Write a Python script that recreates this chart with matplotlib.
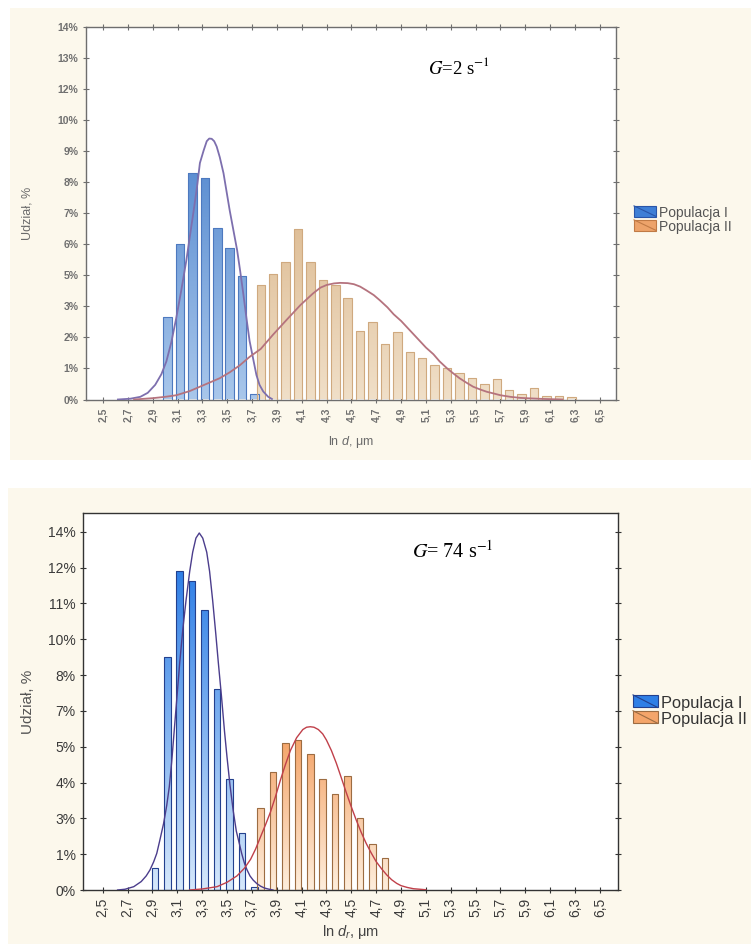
import numpy as np
import matplotlib
matplotlib.use("Agg")
import matplotlib.pyplot as plt
from matplotlib.patches import Rectangle, Patch
from matplotlib.lines import Line2D
from matplotlib.colors import LinearSegmentedColormap
from matplotlib.legend_handler import HandlerBase

plt.rcParams["font.family"] = ["Liberation Sans", "DejaVu Sans"]
plt.rcParams["mathtext.fontset"] = "custom"
plt.rcParams["mathtext.rm"] = "Liberation Sans"
plt.rcParams["mathtext.it"] = "Liberation Sans:italic"

# --- osie wspólne -----------------------------------------------------------
x_tick_labels = ["2,5", "2,7", "2,9", "3,1", "3,3", "3,5", "3,7", "3,9", "4,1",
                 "4,3", "4,5", "4,7", "4,9", "5,1", "5,3", "5,5", "5,7", "5,9",
                 "6,1", "6,3", "6,5"]
legend_labels = ["Populacja I", "Populacja II"]

# --- G = 2 s-1 (górny wykres) -----------------------------------------------
top_y_tick_labels = ["0%", "1%", "2%", "3%", "5%", "6%", "7%", "8%", "9%",
                     "10%", "12%", "13%", "14%"]
top_pop1_x = [3.02, 3.12, 3.22, 3.32, 3.42, 3.52, 3.62, 3.72]
top_pop1_y = [3.1, 5.85, 8.5, 8.3, 6.45, 5.7, 4.65, 0.2]
top_pop2_x = [3.77, 3.87, 3.97, 4.07, 4.17, 4.27, 4.37, 4.47, 4.57, 4.67,
              4.77, 4.87, 4.97, 5.07, 5.17, 5.27, 5.37, 5.47, 5.57, 5.67,
              5.77, 5.87, 5.97, 6.07, 6.17, 6.27]
top_pop2_y = [4.3, 4.7, 5.15, 6.4, 5.15, 4.5, 4.3, 3.8, 2.57, 2.9,
              2.1, 2.55, 1.78, 1.55, 1.3, 1.2, 1.0, 0.8, 0.6, 0.78,
              0.35, 0.2, 0.45, 0.12, 0.12, 0.1]
top_fit1_x = [2.62, 2.72, 2.8, 2.86, 2.92, 2.97, 3.01, 3.05, 3.09, 3.13, 3.17,
              3.2, 3.23, 3.26, 3.28, 3.31, 3.335, 3.355, 3.375, 3.395, 3.415,
              3.44, 3.47, 3.495, 3.52, 3.55, 3.58, 3.605, 3.63, 3.655, 3.68,
              3.71, 3.735, 3.76, 3.79, 3.83, 3.86]
top_fit1_y = [0.0, 0.03, 0.1, 0.25, 0.55, 0.95, 1.43, 2.15, 3.07, 4.1, 5.2,
              6.15, 7.1, 8.1, 8.88, 9.35, 9.7, 9.8, 9.79, 9.7, 9.5,
              9.1, 8.5, 7.8, 7.1, 6.35, 5.6, 4.8, 3.95, 3.05, 2.2,
              1.5, 0.92, 0.55, 0.3, 0.1, 0.02]
top_fit2_x = [2.75, 2.9, 3.0, 3.09, 3.2, 3.28, 3.36, 3.44, 3.52, 3.6, 3.68,
              3.77, 3.87, 3.98, 4.09, 4.19, 4.25, 4.3, 4.36, 4.41, 4.47, 4.52,
              4.57, 4.62, 4.68, 4.73, 4.79, 4.84, 4.9, 4.95, 5.0, 5.05, 5.1,
              5.16, 5.21, 5.27, 5.32, 5.37, 5.43, 5.48, 5.54, 5.59, 5.65, 5.7,
              5.78, 5.86, 5.95, 6.05, 6.2]
top_fit2_y = [0.0, 0.05, 0.1, 0.16, 0.32, 0.48, 0.64, 0.8, 1.02, 1.28, 1.6,
              1.9, 2.44, 3.0, 3.55, 3.98, 4.2, 4.3, 4.36, 4.38, 4.37, 4.33,
              4.24, 4.1, 3.92, 3.72, 3.46, 3.2, 2.95, 2.7, 2.45, 2.2, 1.95,
              1.7, 1.43, 1.17, 0.98, 0.8, 0.62, 0.48, 0.37, 0.29, 0.22, 0.16,
              0.1, 0.06, 0.04, 0.02, 0.0]

# --- G = 74 s-1 (dolny wykres) ----------------------------------------------
bot_y_tick_labels = ["0%", "1%", "3%", "4%", "5%", "7%", "8%", "10%", "11%",
                     "12%", "14%"]
bot_pop1_x = [2.92, 3.02, 3.12, 3.22, 3.32, 3.42, 3.52, 3.62, 3.72]
bot_pop1_y = [0.85, 9.1, 12.47, 12.07, 10.95, 7.84, 4.32, 2.24, 0.1]
bot_pop2_x = [3.77, 3.87, 3.97, 4.07, 4.17, 4.27, 4.37, 4.47, 4.57, 4.67, 4.77]
bot_pop2_y = [3.19, 4.62, 5.73, 5.86, 5.31, 4.32, 3.75, 4.45, 2.8, 1.78, 1.24]
bot_fit1_x = [2.62, 2.68, 2.75, 2.81, 2.85, 2.88, 2.91, 2.935, 2.96, 2.99,
              3.015, 3.036, 3.055, 3.075, 3.1, 3.12, 3.145, 3.17, 3.2, 3.224,
              3.25, 3.277, 3.305, 3.337, 3.36, 3.385, 3.41, 3.43, 3.455, 3.48,
              3.5, 3.524, 3.55, 3.575, 3.6, 3.618, 3.64, 3.66, 3.685, 3.71,
              3.74, 3.77, 3.8, 3.83, 3.87]
bot_fit1_y = [0.0, 0.03, 0.13, 0.33, 0.55, 0.78, 1.1, 1.43, 1.95, 2.6,
              3.3, 4.04, 5.0, 6.2, 7.7, 8.9, 10.2, 11.3, 12.45, 13.2,
              13.75, 13.95, 13.75, 13.2, 12.45, 11.3, 10.0, 8.9, 7.6, 6.2,
              5.2, 4.1, 3.1, 2.3, 1.8, 1.43, 1.05, 0.8, 0.55, 0.39,
              0.25, 0.15, 0.08, 0.04, 0.0]
bot_fit2_x = [3.2, 3.3, 3.42, 3.5, 3.58, 3.64, 3.69, 3.73, 3.77, 3.81, 3.85,
              3.89, 3.93, 3.97, 4.01, 4.06, 4.11, 4.14, 4.17, 4.2, 4.235, 4.27,
              4.3, 4.34, 4.38, 4.42, 4.46, 4.5, 4.54, 4.58, 4.62, 4.66, 4.7,
              4.745, 4.785, 4.825, 4.865, 4.9, 4.95, 5.0, 5.05, 5.1]
bot_fit2_y = [0.0, 0.04, 0.13, 0.3, 0.55, 0.85, 1.2, 1.6, 2.08, 2.55, 3.05,
              3.65, 4.3, 4.9, 5.45, 5.95, 6.27, 6.36, 6.38, 6.36, 6.27, 6.1,
              5.86, 5.45, 4.95, 4.38, 3.8, 3.25, 2.73, 2.25, 1.82, 1.45, 1.11,
              0.82, 0.59, 0.4, 0.26, 0.17, 0.1, 0.05, 0.03, 0.01]

W, H = 751, 944
CREAM = "#fcf8ec"


class HandlerDiag(HandlerBase):
    # prostokąt z ukośną kreską, jak w legendzie Statistici
    def create_artists(self, legend, orig, x0, y0, width, height, fontsize, trans):
        r = Rectangle((x0, y0), width, height, facecolor=orig.get_facecolor(),
                      edgecolor=orig.get_edgecolor(), linewidth=0.8, transform=trans)
        l = Line2D([x0, x0 + width], [y0 + height, y0], color=orig.get_edgecolor(),
                   linewidth=0.8, transform=trans)
        return [r, l]


def gradient_bars(ax, xs, hs, width, c_top, c_bot, edge, lw, ymax):
    cmap = LinearSegmentedColormap.from_list("g", [c_bot, c_top])
    grad = np.linspace(0, 1, 256).reshape(-1, 1)
    bars = ax.bar(xs, hs, width=width, facecolor="none", edgecolor=edge,
                  linewidth=lw, zorder=3)
    for b in bars:
        x0, w = b.get_x(), b.get_width()
        im = ax.imshow(grad, extent=(x0, x0 + w, 0, ymax), origin="lower",
                       cmap=cmap, aspect="auto", zorder=2, interpolation="bilinear")
        im.set_clip_path(b)


def style_axes(ax, xlim, ylim, yticks, ylabels, fs_tick, tick_color, spine_color,
               weight="normal", top_ticks=True):
    ax.set_facecolor("white")
    xt = [float(s.replace(",", ".")) for s in x_tick_labels]
    ax.set_xticks(xt)
    ax.set_xticklabels(x_tick_labels, rotation=90, fontsize=fs_tick,
                       color=tick_color, fontweight=weight)
    ax.set_yticks(yticks)
    ax.set_yticklabels(ylabels, fontsize=fs_tick, color=tick_color, fontweight=weight)
    ax.set_xlim(*xlim)
    ax.set_ylim(*ylim)
    ax.tick_params(direction="inout", length=5, width=0.8, colors=spine_color,
                   labelcolor=tick_color, top=top_ticks, right=True, pad=3)
    for s in ax.spines.values():
        s.set_color(spine_color)
        s.set_linewidth(1.0)


fig = plt.figure(figsize=(W / 100, H / 100), dpi=100)
fig.patch.set_facecolor("white")
fig.add_artist(Rectangle((10 / W, 1 - 460 / H), 741 / W, 452 / H,
                         transform=fig.transFigure, facecolor=CREAM,
                         edgecolor="none", zorder=0))
fig.add_artist(Rectangle((8 / W, 0), 743 / W, 1 - 488 / H,
                         transform=fig.transFigure, facecolor=CREAM,
                         edgecolor="none", zorder=0))

# ---------------- górny wykres ----------------
ax1 = fig.add_axes([86 / W, 1 - 399.5 / H, 530 / W, 372.8 / H])
gradient_bars(ax1, top_pop1_x, top_pop1_y, 0.07, "#5d8fd2", "#a9c7eb",
              "#4d79bf", 0.8, max(top_pop1_y))
gradient_bars(ax1, top_pop2_x, top_pop2_y, 0.068, "#dfbf98", "#f0dfc8",
              "#cfa97f", 0.8, max(top_pop2_y))
ax1.plot(top_fit1_x, top_fit1_y, color="#7d6fae", linewidth=1.3, zorder=4)
ax1.plot(top_fit2_x, top_fit2_y, color="#b5737e", linewidth=1.3, zorder=4)
style_axes(ax1, (2.363, 6.63), (0, 14), np.linspace(0, 14, len(top_y_tick_labels)),
           top_y_tick_labels, 7.5, "#707070", "#6e6e6e", weight="bold")
ax1.set_ylabel("Udział, %", fontsize=9, color="#6b6b6b", labelpad=17)
ax1.set_xlabel("ln $d$, μm", fontsize=9, color="#6b6b6b", labelpad=9)
fig.text(428 / W, 1 - 67 / H, r"$G$=2 s$^{-1}$", family="Liberation Serif",
         math_fontfamily="stix", fontsize=13.5, ha="left", va="center")
h1 = [Patch(facecolor="#3f7fd6", edgecolor="#2a55a8"),
      Patch(facecolor="#eda36a", edgecolor="#c07a45")]
fig.legend(h1, legend_labels, loc="upper left", bbox_to_anchor=(634 / W, 1 - 206 / H),
           frameon=False, fontsize=10, handlelength=1.6, handleheight=0.8,
           handletextpad=0.2, labelspacing=0.0, borderpad=0, borderaxespad=0,
           labelcolor="#555555", handler_map={Patch: HandlerDiag()})

# ---------------- dolny wykres ----------------
ax2 = fig.add_axes([83.3 / W, 1 - 890 / H, 534.5 / W, 376.7 / H])
gradient_bars(ax2, bot_pop1_x, bot_pop1_y, 0.053, "#2f7fe6", "#d6e8fb",
              "#23408e", 0.8, max(bot_pop1_y))
gradient_bars(ax2, bot_pop2_x, bot_pop2_y, 0.053, "#f4a56a", "#feeedd",
              "#9c6c42", 0.8, max(bot_pop2_y))
ax2.plot(bot_fit1_x, bot_fit1_y, color="#4b3d8c", linewidth=1.0, zorder=4)
ax2.plot(bot_fit2_x, bot_fit2_y, color="#c0404a", linewidth=1.0, zorder=4)
style_axes(ax2, (2.344, 6.644), (0, 14.72), np.linspace(0, 14, len(bot_y_tick_labels)),
           bot_y_tick_labels, 10, "#3a3a3a", "#333333", top_ticks=False)
ax2.set_ylabel("Udział, %", fontsize=11, color="#555555", labelpad=9)
ax2.set_xlabel("ln $d_r$, μm", fontsize=10.5, color="#444444", labelpad=4)
fig.text(412 / W, 1 - 552 / H, r"$G$= 74 s$^{-1}$", family="Liberation Serif",
         math_fontfamily="stix", fontsize=14.5, ha="left", va="center")
h2 = [Patch(facecolor="#2f7fe6", edgecolor="#23408e"),
      Patch(facecolor="#f4a56a", edgecolor="#9c6c42")]
fig.legend(h2, legend_labels, loc="upper left", bbox_to_anchor=(633 / W, 1 - 696 / H),
           frameon=False, fontsize=11.8, handlelength=1.5, handleheight=0.8,
           handletextpad=0.2, labelspacing=0.05, borderpad=0, borderaxespad=0,
           labelcolor="#333333", handler_map={Patch: HandlerDiag()})

fig.savefig("out.png", dpi=100, facecolor=fig.get_facecolor())
